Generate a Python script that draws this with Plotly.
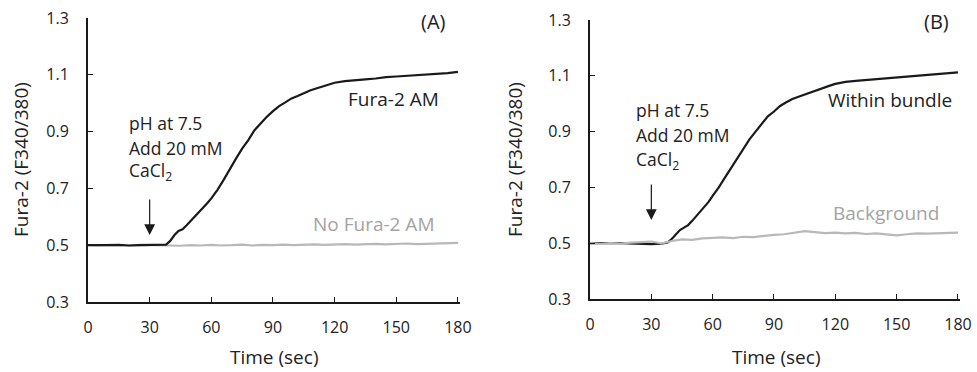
import plotly.graph_objects as go

# ---------------- data ----------------
time_black = [0, 5, 10, 15, 20, 25, 30, 35, 38, 40, 42, 44, 46, 48, 50, 52, 55, 58, 60, 63, 66, 69, 72, 75,
              78, 81, 84, 87, 90, 93, 96, 99, 102, 105, 108, 111, 114, 117, 120, 125, 130, 135, 140, 145,
              150, 155, 160, 165, 170, 175, 180]
fura_am = [0.500, 0.499, 0.500, 0.501, 0.499, 0.500, 0.501, 0.500, 0.502, 0.515, 0.535, 0.550, 0.556, 0.570,
           0.585, 0.600, 0.622, 0.648, 0.665, 0.695, 0.730, 0.770, 0.805, 0.840, 0.870, 0.905, 0.930, 0.952,
           0.972, 0.990, 1.003, 1.017, 1.025, 1.035, 1.045, 1.052, 1.058, 1.065, 1.072, 1.078, 1.082, 1.084,
           1.087, 1.092, 1.094, 1.096, 1.100, 1.101, 1.104, 1.106, 1.110]
within_bundle = [0.500, 0.499, 0.500, 0.500, 0.499, 0.497, 0.497, 0.498, 0.503, 0.515, 0.532, 0.547, 0.556,
                 0.565, 0.580, 0.597, 0.622, 0.648, 0.670, 0.700, 0.735, 0.770, 0.805, 0.840, 0.872, 0.900,
                 0.928, 0.955, 0.972, 0.992, 1.005, 1.017, 1.025, 1.033, 1.042, 1.050, 1.057, 1.064, 1.071,
                 1.078, 1.082, 1.085, 1.087, 1.091, 1.094, 1.096, 1.098, 1.101, 1.104, 1.108, 1.112]

time_gray = [0, 5, 10, 15, 20, 25, 30, 35, 40, 45, 50, 55, 60, 65, 70, 75, 80, 85, 90, 95, 100, 105, 110,
             115, 120, 125, 130, 135, 140, 145, 150, 155, 160, 165, 170, 175, 180]
no_fura_am = [0.500, 0.499, 0.501, 0.500, 0.499, 0.501, 0.500, 0.501, 0.499, 0.498, 0.500, 0.499, 0.501,
              0.499, 0.500, 0.502, 0.499, 0.501, 0.500, 0.502, 0.500, 0.501, 0.503, 0.501, 0.502, 0.504,
              0.502, 0.503, 0.505, 0.503, 0.504, 0.506, 0.504, 0.505, 0.507, 0.506, 0.508]
background = [0.500, 0.498, 0.500, 0.499, 0.502, 0.503, 0.506, 0.499, 0.508, 0.514, 0.512, 0.517, 0.519,
              0.521, 0.518, 0.523, 0.522, 0.527, 0.530, 0.532, 0.538, 0.543, 0.540, 0.536, 0.538, 0.535,
              0.537, 0.533, 0.535, 0.531, 0.528, 0.532, 0.535, 0.534, 0.536, 0.537, 0.538]

x_ticks = [0, 30, 60, 90, 120, 150, 180]
y_ticks = [0.3, 0.5, 0.7, 0.9, 1.1, 1.3]
x_title = "Time (sec)"
y_title = "Fura-2 (F340/380)"

FONT = "Open Sans"
BLACK = "#1a1a1a"
GRAY = "#b8b8b8"
GRAY_TXT = "#a3a3a3"

fig = go.Figure()
fig.add_trace(go.Scatter(x=time_gray, y=no_fura_am, mode="lines", line=dict(color=GRAY, width=2.2),
                         xaxis="x", yaxis="y", showlegend=False))
fig.add_trace(go.Scatter(x=time_black, y=fura_am, mode="lines", line=dict(color=BLACK, width=2.2),
                         xaxis="x", yaxis="y", showlegend=False))
fig.add_trace(go.Scatter(x=time_black, y=within_bundle, mode="lines", line=dict(color=BLACK, width=2.2),
                         xaxis="x2", yaxis="y2", showlegend=False))
fig.add_trace(go.Scatter(x=time_gray, y=background, mode="lines", line=dict(color=GRAY, width=2.2),
                         xaxis="x2", yaxis="y2", showlegend=False))

axis_common = dict(showgrid=False, zeroline=False, showline=True, linecolor=BLACK, linewidth=2,
                   ticks="inside", ticklen=5, tickwidth=1.3, tickcolor=BLACK, automargin=False,
                   tickfont=dict(family=FONT, size=16, color="#222"))

xa = dict(axis_common, range=[0, 181], tickvals=x_ticks, ticklabelstandoff=10)
ya = dict(axis_common, range=[0.3, 1.3], tickvals=y_ticks, tickformat=".1f", ticklabelstandoff=14)

fig.update_layout(
    width=977, height=372,
    margin=dict(l=0, r=0, t=0, b=0, autoexpand=False),
    paper_bgcolor="white", plot_bgcolor="white",
    xaxis=dict(xa, domain=[88 / 977, 460 / 977], anchor="y"),
    yaxis=dict(ya, domain=[70 / 372, 354 / 372], anchor="x"),
    xaxis2=dict(xa, domain=[590 / 977, 960 / 977], anchor="y2"),
    yaxis2=dict(ya, domain=[73 / 372, 352 / 372], anchor="x2"),
    font=dict(family=FONT, color="#222"),
)

ann = []
def txt(text, x, y, xref, yref, size=18, color="#222", xanchor="center", yanchor="middle", angle=0):
    ann.append(dict(text=text, x=x, y=y, xref=xref, yref=yref, showarrow=False, xanchor=xanchor,
                    yanchor=yanchor, textangle=angle, font=dict(family=FONT, size=size, color=color)))

# axis titles
txt(x_title, 274 / 977, 1 - 357 / 372, "paper", "paper", size=19)
txt(x_title, 776 / 977, 1 - 357 / 372, "paper", "paper", size=19)
txt(y_title, 21 / 977, 1 - 160 / 372, "paper", "paper", size=19, angle=-90)
txt(y_title, 515 / 977, 1 - 160 / 372, "paper", "paper", size=19, angle=-90)

# panel A
txt("(A)", 167.9, 1.286, "x", "y", size=20)
txt("Fura-2 AM", 148.5, 1.015, "x", "y", size=19)
txt("No Fura-2 AM", 138.9, 0.575, "x", "y", size=19, color=GRAY_TXT)
txt("pH at 7.5", 18.9, 0.930, "x", "y", size=17.5, xanchor="left")
txt("Add 20 mM", 18.9, 0.842, "x", "y", size=17.5, xanchor="left")
txt("CaCl<sub>2</sub>", 18.9, 0.758, "x", "y", size=17.5, xanchor="left")
# panel B
txt("(B)", 169.3, 1.293, "x2", "y2", size=20)
txt("Within bundle", 146.6, 1.013, "x2", "y2", size=19)
txt("Background", 144.7, 0.608, "x2", "y2", size=19, color=GRAY_TXT)
txt("pH at 7.5", 21.4, 0.977, "x2", "y2", size=17.5, xanchor="left")
txt("Add 20 mM", 21.4, 0.888, "x2", "y2", size=17.5, xanchor="left")
txt("CaCl<sub>2</sub>", 21.4, 0.798, "x2", "y2", size=17.5, xanchor="left")

# arrows
for xr, yr, tip in (("x", "y", 0.536), ("x2", "y2", 0.583)):
    ann.append(dict(x=30, y=tip, xref=xr, yref=yr, ax=0, ay=-37, axref="pixel", ayref="pixel",
                    text="", showarrow=True, arrowhead=2, arrowsize=1.8, arrowwidth=1.2,
                    arrowcolor=BLACK, standoff=0))

fig.update_layout(annotations=ann)
fig.write_html("out.html")
